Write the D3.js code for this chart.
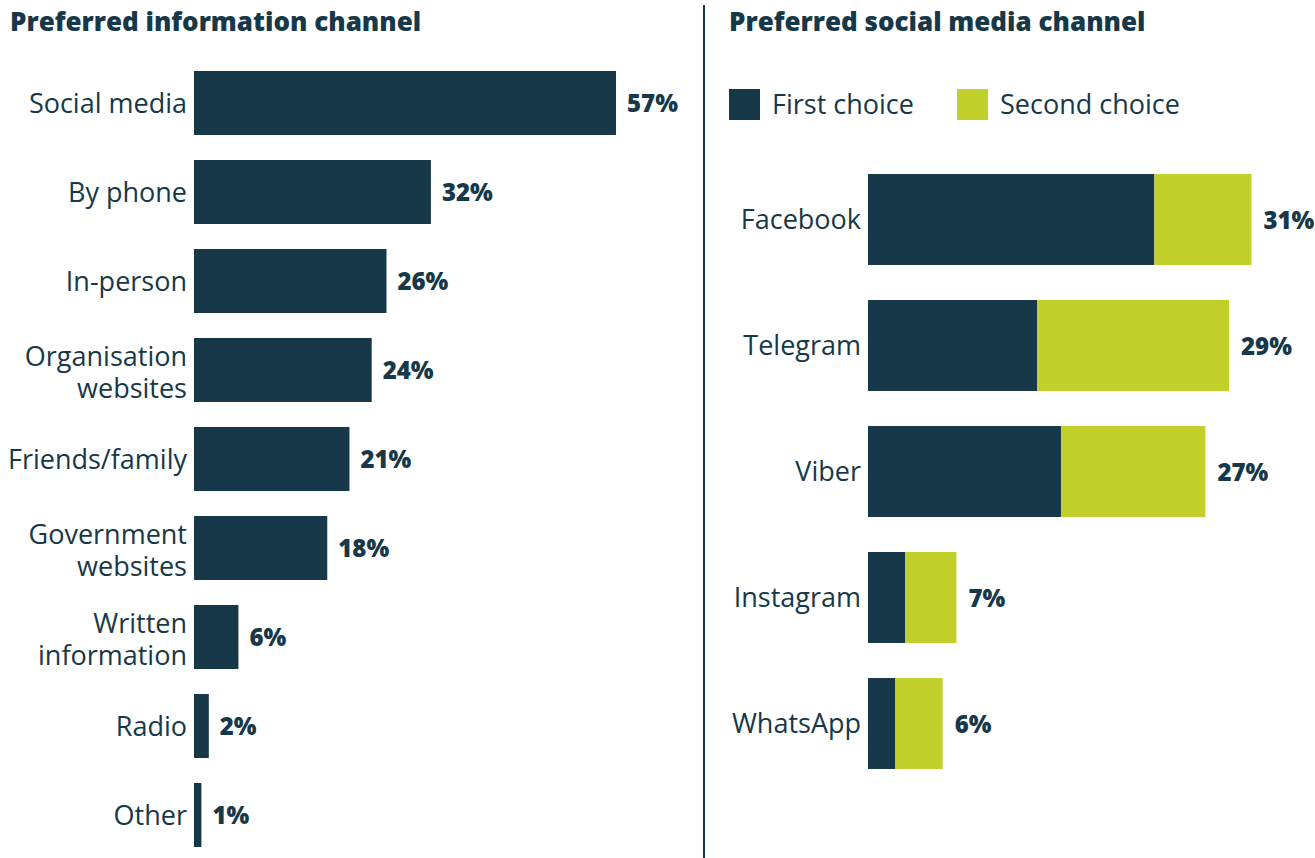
<!DOCTYPE html>
<html>
<head>
<meta charset="utf-8">
<script src="https://cdn.jsdelivr.net/npm/d3@7"></script>
<style>
  body { margin: 0; background: #fff; }
  svg text { font-family: "Open Sans", Lato, sans-serif; fill: #163848; }
  .title { font-weight: 800; font-size: 26px; }
  .label { font-size: 27px; }
  .value { font-weight: 800; font-size: 24px; }
</style>
</head>
<body>
<div id="chart"></div>
<script>
"use strict"

// Left panel: preferred information channel
const channels = ["Social media", "By phone", "In-person", "Organisation\nwebsites",
    "Friends/family", "Government\nwebsites", "Written\ninformation", "Radio", "Other"];
const channelValues = [57, 32, 26, 24, 21, 18, 6, 2, 1];

// Right panel: preferred social media channel
const platforms = ["Facebook", "Telegram", "Viber", "Instagram", "WhatsApp"];
const firstChoice = [23, 13.6, 15.5, 3, 2.2];
const secondChoice = [7.8, 15.4, 11.6, 4.1, 3.8];
const platformTotals = [31, 29, 27, 7, 6];
const seriesNames = ["First choice", "Second choice"];

const dark = "#163848";
const lime = "#c2d02c";

const width = 1315, height = 858;

const svg = d3.select("#chart").append("svg")
    .attr("width", width)
    .attr("height", height);

// ---- Left panel ----
svg.append("text")
    .attr("class", "title")
    .attr("x", 10)
    .attr("y", 31)
    .text("Preferred information channel");

let xLeft = d3.scaleLinear()
    .domain([0, 57])
    .range([194, 616]);
let yLeft = d3.scaleBand()
    .domain(channels)
    .range([58.5, 859.5])
    .paddingInner(0.281)
    .paddingOuter(0.1405);

let left = svg.append("g").attr("class", "left");

left.selectAll("rect")
    .data(channels)
    .enter().append("rect")
        .attr("x", xLeft(0))
        .attr("y", d => yLeft(d))
        .attr("width", (d, i) => xLeft(channelValues[i]) - xLeft(0))
        .attr("height", yLeft.bandwidth())
        .style("fill", dark);

// one text per line so that wrapped labels keep the reference's line spacing
const lineHeight = 31.5;
let labelLines = [];
channels.forEach(function(c) {
    const lines = c.split("\n");
    lines.forEach(function(l, j) {
        labelLines.push({cat: c, text: l, offset: (j - (lines.length - 1) / 2) * lineHeight});
    });
});

left.selectAll(".label")
    .data(labelLines)
    .enter().append("text")
        .attr("class", "label")
        .attr("text-anchor", "end")
        .attr("x", xLeft(0) - 7)
        .attr("y", d => yLeft(d.cat) + yLeft.bandwidth() / 2 + d.offset + (d.offset == 0 ? 10 : 12))
        .text(d => d.text);

left.selectAll(".value")
    .data(channels)
    .enter().append("text")
        .attr("class", "value")
        .attr("x", (d, i) => xLeft(channelValues[i]) + 11)
        .attr("y", d => yLeft(d) + yLeft.bandwidth() / 2 + 9)
        .text((d, i) => channelValues[i] + "%");

// divider
svg.append("line")
    .attr("x1", 704).attr("x2", 704)
    .attr("y1", 5).attr("y2", 858)
    .style("stroke", dark)
    .style("stroke-width", 2);

// ---- Right panel ----
svg.append("text")
    .attr("class", "title")
    .attr("x", 729)
    .attr("y", 31)
    .text("Preferred social media channel");

// legend
const legendX = [729, 957];
let legend = svg.append("g").attr("class", "legend");
legend.selectAll("rect")
    .data(seriesNames)
    .enter().append("rect")
        .attr("x", (d, i) => legendX[i])
        .attr("y", 89)
        .attr("width", 31)
        .attr("height", 31)
        .style("fill", (d, i) => i == 0 ? dark : lime);
legend.selectAll("text")
    .data(seriesNames)
    .enter().append("text")
        .attr("class", "label")
        .attr("x", (d, i) => legendX[i] + 43)
        .attr("y", 114)
        .text(d => d);

let xRight = d3.scaleLinear()
    .domain([0, 31])
    .range([868, 868 + 12.45 * 31]);
let yRight = d3.scaleBand()
    .domain(platforms)
    .range([156.5, 786.5])
    .paddingInner(0.278)
    .paddingOuter(0.139);

const stacked = d3.stack().keys([0, 1])
    .value((d, k) => k == 0 ? firstChoice[d] : secondChoice[d])(d3.range(platforms.length));

let right = svg.append("g").attr("class", "right");

right.selectAll("g.series")
    .data(stacked)
    .enter().append("g")
        .attr("class", "series")
        .style("fill", (s, k) => k == 0 ? dark : lime)
    .selectAll("rect")
    .data(s => s)
    .enter().append("rect")
        .attr("x", d => xRight(d[0]))
        .attr("y", d => yRight(platforms[d.data]))
        .attr("width", d => xRight(d[1]) - xRight(d[0]))
        .attr("height", yRight.bandwidth());

right.selectAll(".label")
    .data(platforms)
    .enter().append("text")
        .attr("class", "label")
        .attr("text-anchor", "end")
        .attr("x", xRight(0) - 7)
        .attr("y", d => yRight(d) + yRight.bandwidth() / 2 + 9)
        .text(d => d);

right.selectAll(".value")
    .data(platforms)
    .enter().append("text")
        .attr("class", "value")
        .attr("x", (d, i) => xRight(firstChoice[i] + secondChoice[i]) + 12)
        .attr("y", d => yRight(d) + yRight.bandwidth() / 2 + 9)
        .text((d, i) => platformTotals[i] + "%");
</script>
</body>
</html>
